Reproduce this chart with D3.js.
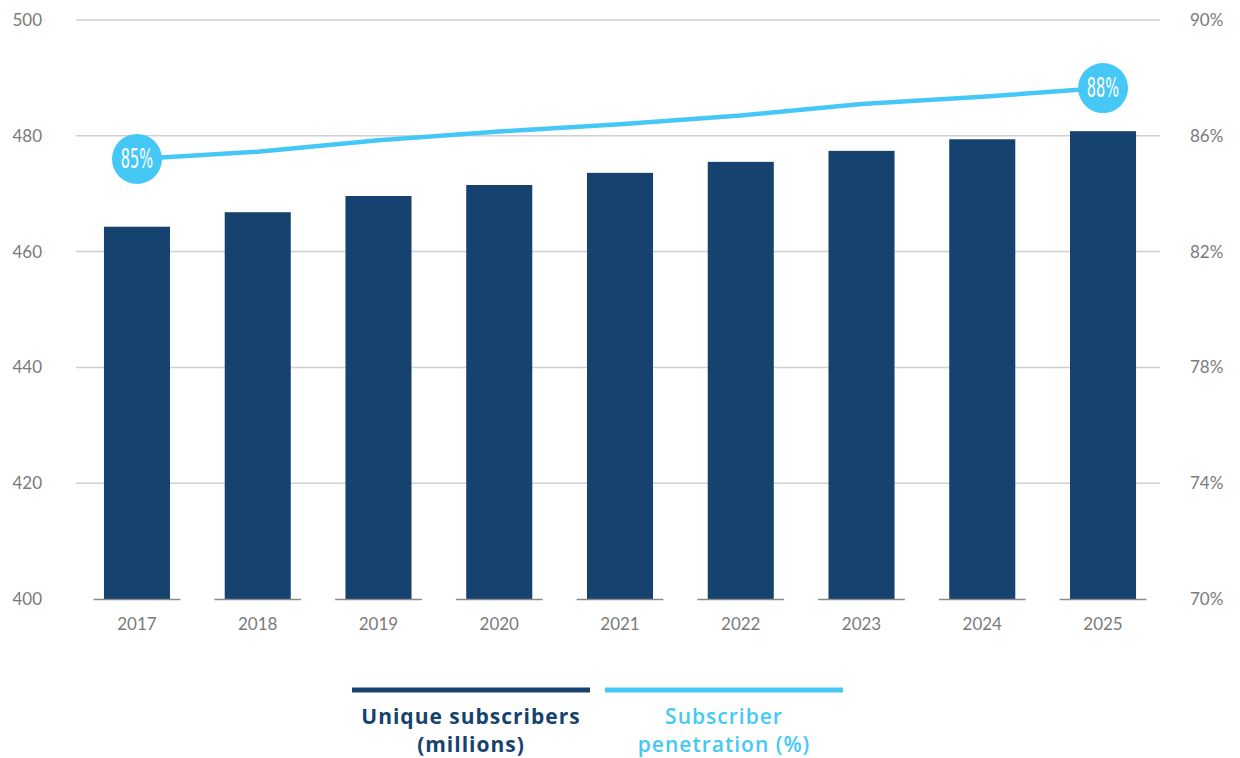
<!DOCTYPE html>
<html>
<head>
<meta charset="utf-8">
<script src="https://cdn.jsdelivr.net/npm/d3@7"></script>
<style>
  body { margin: 0; background: #fff; }
  svg text { font-family: Lato, "Open Sans", sans-serif; }
</style>
</head>
<body>
<div id="chart"></div>
<script>
// data
var years = ['2017', '2018', '2019', '2020', '2021', '2022', '2023', '2024', '2025'];
var subscribers = [464.3, 466.8, 469.6, 471.5, 473.6, 475.5, 477.4, 479.4, 480.8];
var penetration = [85.2, 85.45, 85.85, 86.15, 86.4, 86.7, 87.1, 87.35, 87.65];
var leftTicks = [400, 420, 440, 460, 480, 500];
var rightTicks = [70, 74, 78, 82, 86, 90];
var circleLabels = {0: '85%', 8: '88%'};

var width = 1240, height = 758;
var navy = '#16426f', cyan = '#45c8f6';

var svg = d3.select('#chart').append('svg')
    .attr('width', width)
    .attr('height', height);

var x = d3.scaleBand()
    .domain(years)
    .range([76.6, 1163.4])
    .paddingInner(0.453)
    .paddingOuter(0.2265);

var yL = d3.scaleLinear().domain([400, 500]).range([599, 20]);
var yR = d3.scaleLinear().domain([70, 90]).range([599, 20]);

// grid
svg.append('g').selectAll('line')
    .data(leftTicks.slice(1))
    .join('line')
    .attr('x1', 76).attr('x2', 1160)
    .attr('y1', d => yL(d)).attr('y2', d => yL(d))
    .attr('stroke', '#d0d0d0')
    .attr('stroke-width', 1.5);

// left axis labels
svg.append('g').selectAll('text')
    .data(leftTicks)
    .join('text')
    .attr('x', 42)
    .attr('y', d => yL(d) + 6)
    .attr('text-anchor', 'end')
    .attr('fill', '#7a7a7a')
    .style('font-size', '17px')
    .text(d => d);

// right axis labels
svg.append('g').selectAll('text')
    .data(rightTicks)
    .join('text')
    .attr('x', 1190)
    .attr('y', d => yR(d) + 6)
    .attr('fill', '#7a7a7a')
    .style('font-size', '17px')
    .text(d => d + '%');

// bars
svg.append('g').selectAll('rect')
    .data(subscribers)
    .join('rect')
    .attr('x', (d, i) => x(years[i]))
    .attr('y', d => yL(d))
    .attr('width', x.bandwidth())
    .attr('height', d => yL(400) - yL(d))
    .attr('fill', navy);

// baseline segments under each bar
var half = x.step() / 2 - 17;
svg.append('g').selectAll('line')
    .data(years)
    .join('line')
    .attr('x1', d => x(d) + x.bandwidth() / 2 - half)
    .attr('x2', d => x(d) + x.bandwidth() / 2 + half)
    .attr('y1', 599.5).attr('y2', 599.5)
    .attr('stroke', '#8a8a8a')
    .attr('stroke-width', 1.5);

// x labels
svg.append('g').selectAll('text')
    .data(years)
    .join('text')
    .attr('x', d => x(d) + x.bandwidth() / 2)
    .attr('y', 630)
    .attr('text-anchor', 'middle')
    .attr('fill', '#7a7a7a')
    .style('font-size', '17px')
    .text(d => d);

// penetration line
var line = d3.line()
    .x((d, i) => x(years[i]) + x.bandwidth() / 2)
    .y(d => yR(d));

svg.append('path')
    .datum(penetration)
    .attr('d', line)
    .attr('fill', 'none')
    .attr('stroke', cyan)
    .attr('stroke-width', 4.5);

var marks = svg.append('g').selectAll('g')
    .data(Object.keys(circleLabels))
    .join('g')
    .attr('transform', k => `translate(${x(years[k]) + x.bandwidth() / 2},${yR(penetration[k])})`);

marks.append('circle')
    .attr('r', 25)
    .attr('fill', cyan);

marks.append('text')
    .attr('y', 9)
    .attr('text-anchor', 'middle')
    .attr('fill', '#fff')
    .attr('transform', 'scale(0.6,1)')
    .style('font-family', '"Liberation Sans Narrow", "DejaVu Sans Condensed", sans-serif')
    .style('font-size', '27px')
    .text(k => circleLabels[k]);

// legend
var legendItems = [
    {lines: ['Unique subscribers', '(millions)'], color: navy, x0: 352, x1: 590, weight: 700},
    {lines: ['Subscriber', 'penetration (%)'], color: cyan, x0: 605, x1: 843, weight: 600}
];

var legend = svg.append('g').selectAll('g')
    .data(legendItems)
    .join('g');

legend.append('line')
    .attr('x1', d => d.x0).attr('x2', d => d.x1)
    .attr('y1', 690).attr('y2', 690)
    .attr('stroke', d => d.color)
    .attr('stroke-width', 5);

legend.each(function(d) {
    d3.select(this).selectAll('text.lbl')
        .data(d.lines)
        .join('text')
        .attr('class', 'lbl')
        .attr('x', (d.x0 + d.x1) / 2)
        .attr('y', (t, i) => 724 + i * 28)
        .attr('text-anchor', 'middle')
        .attr('fill', d.color)
        .style('font-family', '"Open Sans", sans-serif')
        .style('font-size', '21px')
        .style('font-weight', d.weight)
        .style('letter-spacing', '1px')
        .text(t => t);
});
</script>
</body>
</html>
